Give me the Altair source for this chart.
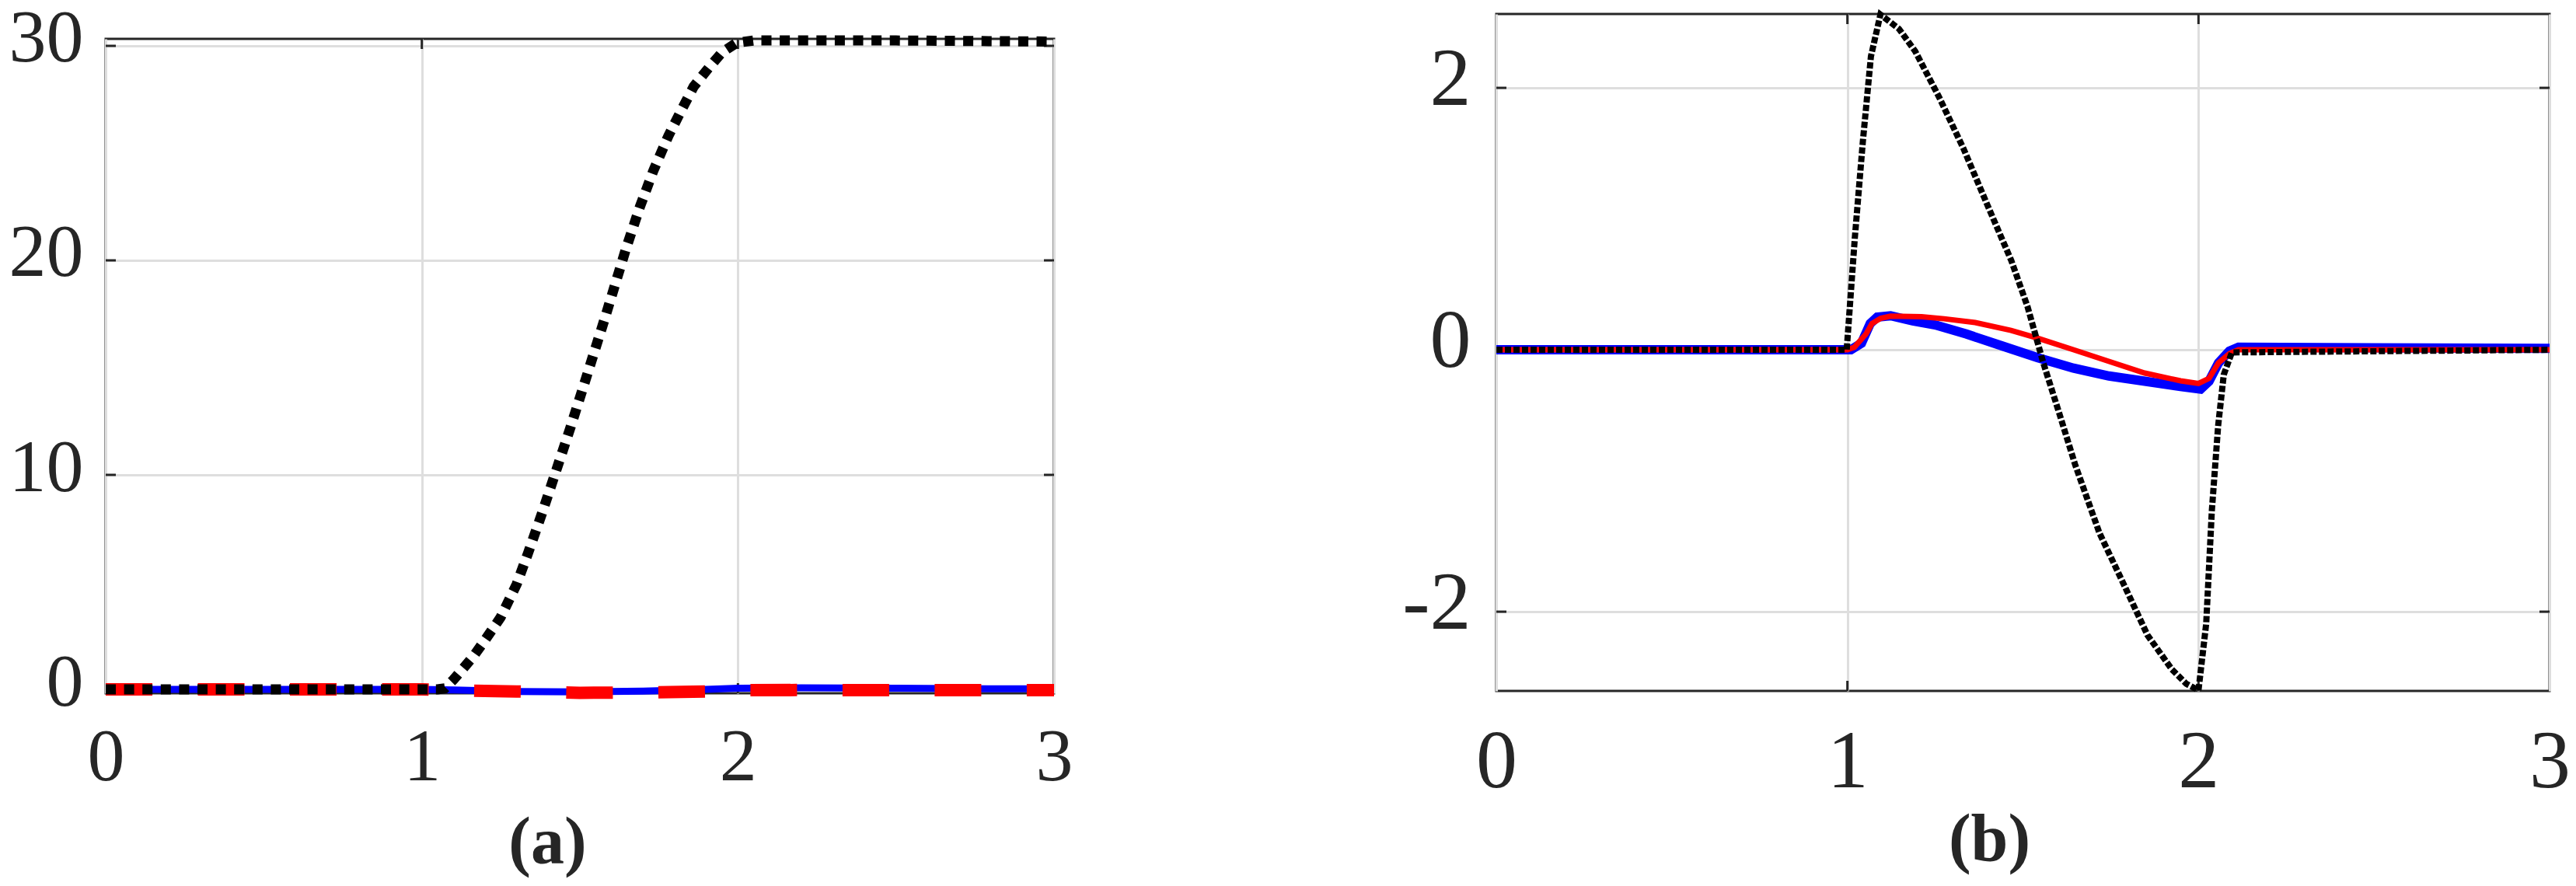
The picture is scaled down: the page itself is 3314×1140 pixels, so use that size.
import altair as alt
import pandas as pd

# ---------------- data ----------------
x_ticks = [0, 1, 2, 3]
x_domain = [0, 3]

# panel (a)
a_y_ticks = [0, 10, 20, 30]
a_y_domain = [-0.181, 30.326]
a_black_t = [0, 1.0, 1.05, 1.073, 1.10, 1.161, 1.20, 1.249, 1.30, 1.337, 1.38, 1.425, 1.47,
             1.513, 1.579, 1.645, 1.69, 1.733, 1.78, 1.821, 1.86, 1.909, 1.95, 1.997, 2.05, 2.5, 3.0]
a_black_v = [0, 0, 0, 0.05, 0.45, 1.5, 2.3, 3.35, 4.9, 6.39, 8.2, 10.2, 12.2,
             14.2, 17.3, 20.5, 22.5, 24.2, 25.8, 27.0, 28.1, 29.0, 29.7, 30.15, 30.25, 30.25, 30.2]
a_blue_t = [0, 1.0, 1.1, 1.3, 1.5, 1.7, 1.9, 2.0, 2.2, 2.5, 2.8, 3.0]
a_blue_v = [0, 0, -0.03, -0.10, -0.12, -0.08, 0.0, 0.05, 0.07, 0.05, 0.03, 0.03]
a_red_t = [0, 1.0, 1.1, 1.3, 1.5, 1.7, 1.9, 2.0, 2.2, 2.5, 2.8, 3.0]
a_red_v = [0, 0, -0.04, -0.10, -0.16, -0.15, -0.10, -0.04, -0.03, -0.04, -0.04, -0.04]

# panel (b)
b_y_ticks = [-2, 0, 2]
b_y_domain = [-2.605, 2.564]
b_black_t = [0, 0.998, 1.021, 1.044, 1.067, 1.094, 1.147, 1.193, 1.261, 1.33, 1.398, 1.467,
             1.513, 1.558, 1.604, 1.649, 1.718, 1.787, 1.855, 1.924, 1.965, 2.0, 2.022, 2.038,
             2.056, 2.072, 2.095, 3.0]
b_black_v = [0, 0.0, 0.85, 1.59, 2.24, 2.56, 2.45, 2.28, 1.93, 1.54, 1.11, 0.68,
             0.33, -0.10, -0.49, -0.88, -1.40, -1.79, -2.18, -2.44, -2.55, -2.6, -2.09, -1.23,
             -0.58, -0.19, -0.02, 0]
b_blue_t = [0, 1.0, 1.01, 1.04, 1.065, 1.085, 1.123, 1.186, 1.25, 1.339, 1.44, 1.542, 1.644,
            1.745, 1.847, 1.949, 2.006, 2.03, 2.057, 2.088, 2.114, 3.0]
b_blue_v = [0, 0, 0.0, 0.05, 0.2, 0.25, 0.26, 0.22, 0.19, 0.12, 0.03, -0.06, -0.14,
            -0.20, -0.24, -0.28, -0.30, -0.24, -0.10, -0.01, 0.02, 0.01]
b_red_t = [0, 1.0, 1.02, 1.053, 1.07, 1.095, 1.123, 1.211, 1.275, 1.364, 1.466, 1.542, 1.644,
           1.745, 1.847, 1.949, 2.0, 2.03, 2.057, 2.088, 2.114, 3.0]
b_red_v = [0, 0, 0.02, 0.12, 0.2, 0.24, 0.257, 0.253, 0.237, 0.208, 0.148, 0.089, 0.0,
           -0.089, -0.178, -0.237, -0.257, -0.218, -0.10, -0.03, 0.0, 0.0]

caption_a = "(a)"
caption_b = "(b)"

FONT = "Liberation Serif"
TEXT = "#262626"
GRID = "#dedede"
TICK_PX = 13


def series_df(t, v):
    return pd.DataFrame({"t": t, "v": v})


def panel(series, ydom, yticks, width, height, fs, xpad, ypad, yoff, caption, cap_x, cap_y):
    xs = alt.Scale(domain=x_domain, nice=False, zero=False)
    ys = alt.Scale(domain=ydom, nice=False, zero=False)
    x_axis = alt.Axis(values=x_ticks, labelExpr="'' + datum.value", ticks=False, domain=False,
                      grid=True, gridColor=GRID, gridWidth=3, labelFont=FONT, labelFontSize=fs,
                      labelColor=TEXT, labelPadding=xpad, labelBaseline="alphabetic",
                      labelFlush=False, labelOverlap=False,
                      title=caption, titleFont=FONT, titleFontSize=86, titleFontWeight="bold",
                      titleColor=TEXT, titleX=cap_x, titleY=cap_y, titleAlign="center",
                      titleBaseline="alphabetic")
    y_axis = alt.Axis(values=yticks, labelExpr="'' + datum.value", ticks=False, domain=False,
                      grid=True, gridColor=GRID, gridWidth=3, labelFont=FONT, labelFontSize=fs,
                      labelColor=TEXT, labelPadding=ypad, labelBaseline="alphabetic",
                      labelOffset=yoff, labelFlush=False, labelOverlap=False, title="")
    X = alt.X("t:Q", scale=xs, axis=x_axis)
    Y = alt.Y("v:Q", scale=ys, axis=y_axis)

    # inward tick marks (MATLAB style), built from the tick values
    dx = TICK_PX * (x_domain[1] - x_domain[0]) / width
    dy = TICK_PX * (ydom[1] - ydom[0]) / height
    hticks = pd.DataFrame(
        [{"t": x_domain[0], "t2": x_domain[0] + dx, "v": y} for y in yticks] +
        [{"t": x_domain[1] - dx, "t2": x_domain[1], "v": y} for y in yticks])
    vticks = pd.DataFrame(
        [{"t": x, "v": ydom[0], "v2": ydom[0] + dy} for x in x_ticks[1:-1]] +
        [{"t": x, "v": ydom[1] - dy, "v2": ydom[1]} for x in x_ticks[1:-1]])
    layers = [
        alt.Chart(hticks).mark_rule(color=TEXT, strokeWidth=3).encode(x=X, x2="t2:Q", y=Y),
        alt.Chart(vticks).mark_rule(color=TEXT, strokeWidth=3).encode(x=X, y=Y, y2="v2:Q"),
    ]
    for (t, v, color, w, dash) in series:
        kw = dict(color=color, strokeWidth=w, clip=False, strokeCap="butt")
        if dash:
            kw["strokeDash"] = dash
        layers.append(alt.Chart(series_df(t, v)).mark_line(**kw).encode(x=X, y=Y))
    return alt.layer(*layers).properties(width=width, height=height)


panel_a = panel(
    [(a_blue_t, a_blue_v, "#0000ff", 9, None),
     (a_red_t, a_red_v, "#ff0000", 16, [60, 58.5]),
     (a_black_t, a_black_v, "#000000", 13, [13, 10.6])],
    a_y_domain, a_y_ticks, 1220, 842, 96, 111, 29, 20, caption_a, 568, 218)

panel_b = panel(
    [(b_blue_t, b_blue_v, "#0000ff", 12, None),
     (b_red_t, b_red_v, "#ff0000", 7, None),
     (b_black_t, b_black_v, "#000000", 8, [8, 3])],
    b_y_domain, b_y_ticks, 1355, 871, 106, 123, 33, 21, caption_b, 634, 217)

spacer = alt.Chart(pd.DataFrame({"s": [0]})).mark_point(opacity=0).encode(
    x=alt.value(0), y=alt.value(0)
).properties(width=1220, height=32, view=alt.ViewBackground(strokeOpacity=0))

left_col = alt.vconcat(spacer, panel_a, spacing=0, bounds="flush")

# the nested column has no own width in a flush layout, so the gap includes panel (a)'s width
chart = alt.hconcat(left_col, panel_b, spacing=1220 + 569, bounds="flush").properties(
    autosize=alt.AutoSizeParams(type="none"),
    padding={"left": 128, "top": 10, "right": 3170, "bottom": 1114},
).configure(background="white").configure_view(stroke=TEXT, strokeWidth=3)

chart.save("out.html", embed_options={"renderer": "svg", "actions": False})
